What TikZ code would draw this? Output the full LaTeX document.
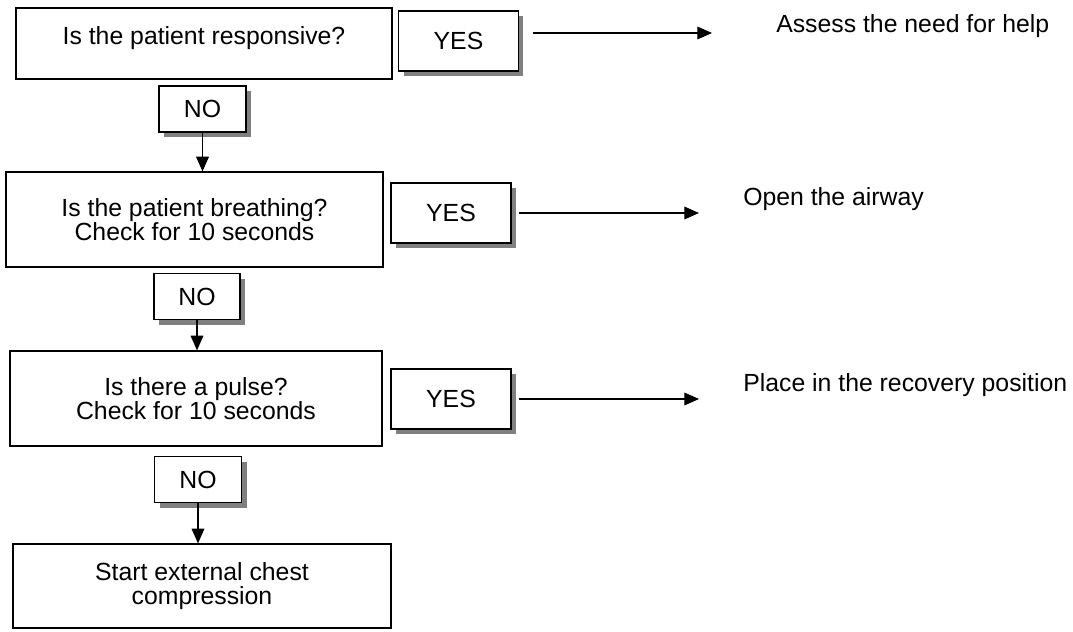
\documentclass[tikz,border=0pt]{standalone}
\usepackage{fontspec}
\setmainfont{Liberation Sans}
\usetikzlibrary{arrows.meta,shadows}
\tikzset{
  box/.style={draw=black, line width=0.9pt, fill=white, inner sep=2pt, align=center},
  tag/.style={box, drop shadow={shadow xshift=3.75pt, shadow yshift=-3.75pt, fill=black!50, opacity=1}},
  arr/.style={draw=black, line width=0.9pt, -{Triangle[length=11pt, width=9.5pt]}},
  note/.style={inner sep=0pt, anchor=base west}
}
\begin{document}
\begin{tikzpicture}[x=0.75pt, y=-0.75pt, font=\fontsize{18.6pt}{17.8pt}\selectfont]
\useasboundingbox (0,0) rectangle (1073,631);
% main boxes
\node[box, minimum width=282pt, minimum height=53.25pt, text height=11pt, text depth=9pt] (b1) at (204,43.5) {Is the patient responsive?};
\node[box, minimum width=282.75pt, minimum height=71.25pt] (b2) at (194.5,219.5) {Is the patient breathing?\\Check for 10 seconds};
\node[box, minimum width=279pt, minimum height=71.25pt] (b3) at (196,398.5) {Is there a pulse?\\Check for 10 seconds};
\node[box, minimum width=283.5pt, minimum height=63pt] (b4) at (202,586) {Start external chest\\compression};
% YES tags
\node[tag, minimum width=89.6pt, minimum height=45pt] (y1) at (458.5,41) {YES};
\node[tag, minimum width=90pt, minimum height=45pt] (y2) at (451,213) {YES};
\node[tag, minimum width=90pt, minimum height=45pt] (y3) at (451,399) {YES};
% NO tags
\node[tag, minimum width=65.25pt, minimum height=34.5pt] (n1) at (202.5,109) {NO};
\node[tag, minimum width=64.5pt, minimum height=34.5pt] (n2) at (197,296.5) {NO};
\node[tag, minimum width=65.25pt, minimum height=34.5pt] (n3) at (198,479.5) {NO};
% outcome texts
\node[note] (t1) at (776,33) {Assess the need for help};
\node[note] (t2) at (743,205) {Open the airway};
\node[note] (t3) at (743,391) {Place in the recovery position};
% connectors
\draw[arr, shorten <=10.5pt, shorten >=48pt] (y1.east |- t1.base west) -- (t1.base west);
\draw[arr, shorten <=5.25pt, shorten >=33pt] (y2.east) -- (y2.east -| t2.base west);
\draw[arr, shorten <=5.25pt, shorten >=33pt] (y3.east) -- (y3.east -| t3.base west);
\draw[arr] (n1.south) -- (n1.south |- b2.north);
\draw[arr] (n2.south) -- (n2.south |- b3.north);
\draw[arr] (n3.south) -- (n3.south |- b4.north);
\end{tikzpicture}
\end{document}
